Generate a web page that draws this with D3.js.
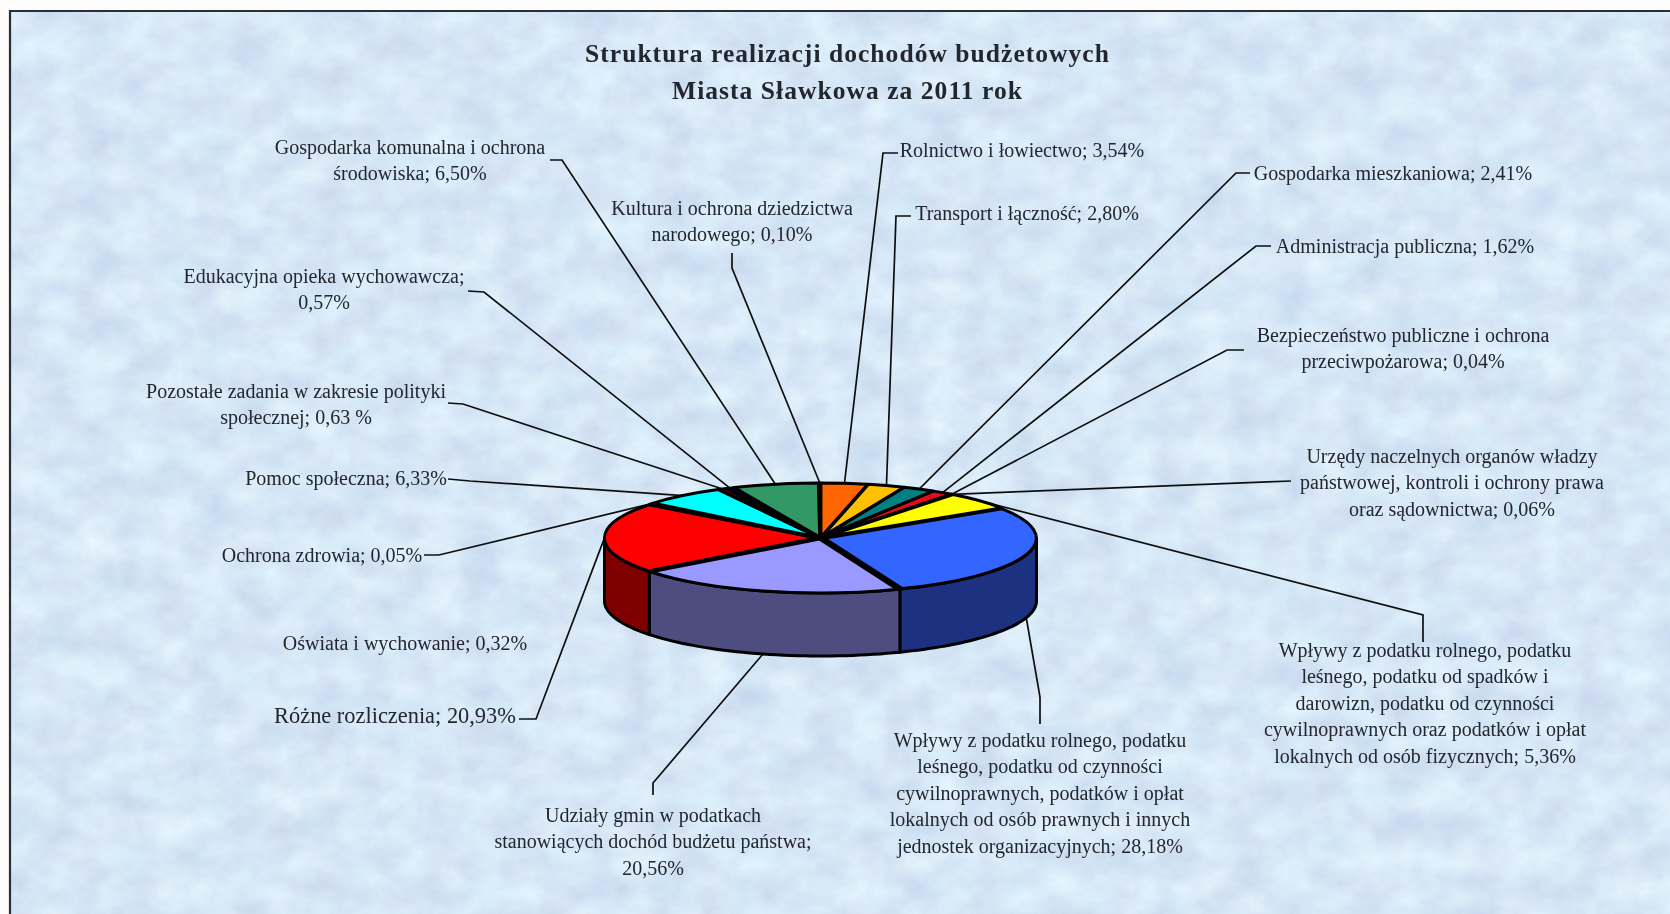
<!DOCTYPE html>
<html>
<head>
<meta charset="utf-8">
<script src="https://cdn.jsdelivr.net/npm/d3@7/dist/d3.min.js"></script>
<style>
  html, body { margin: 0; padding: 0; background: #fcfcfa; overflow: hidden; }
  svg { display: block; }
  text { font-family: "Liberation Serif", serif; fill: #23262e; }
</style>
</head>
<body>
<div id="chart"></div>
<script>
const titleLines = ["Struktura realizacji dochodów budżetowych", "Miasta Sławkowa za 2011 rok"];

// clockwise from 12 o'clock
const categories = [
  "Rolnictwo i łowiectwo",
  "Transport i łączność",
  "Gospodarka mieszkaniowa",
  "Administracja publiczna",
  "Bezpieczeństwo publiczne i ochrona przeciwpożarowa",
  "Urzędy naczelnych organów władzy państwowej, kontroli i ochrony prawa oraz sądownictwa",
  "Wpływy z podatku rolnego, podatku leśnego, podatku od spadków i darowizn, podatku od czynności cywilnoprawnych oraz podatków i opłat lokalnych od osób fizycznych",
  "Wpływy z podatku rolnego, podatku leśnego, podatku od czynności cywilnoprawnych, podatków i opłat lokalnych od osób prawnych i innych jednostek organizacyjnych",
  "Udziały gmin w podatkach stanowiących dochód budżetu państwa",
  "Różne rozliczenia",
  "Oświata i wychowanie",
  "Ochrona zdrowia",
  "Pomoc społeczna",
  "Pozostałe zadania w zakresie polityki społecznej",
  "Edukacyjna opieka wychowawcza",
  "Gospodarka komunalna i ochrona środowiska",
  "Kultura i ochrona dziedzictwa narodowego"
];
const values = [3.54, 2.80, 2.41, 1.62, 0.04, 0.06, 5.36, 28.18, 20.56, 20.93, 0.32, 0.05, 6.33, 0.63, 0.57, 6.50, 0.10];
const colors = ["#ff6600", "#ffc000", "#008080", "#e01020", "#000080", "#800080", "#ffff00", "#3366ff", "#9999ff", "#ff0000",
  "#00ff00", "#000000", "#00ffff", "#800000", "#000080", "#339966", "#000000"];

// text of each label, as it is broken in the picture
const labelLines = [
  ["Rolnictwo i łowiectwo; 3,54%"],
  ["Transport i łączność; 2,80%"],
  ["Gospodarka mieszkaniowa; 2,41%"],
  ["Administracja publiczna; 1,62%"],
  ["Bezpieczeństwo publiczne i ochrona", "przeciwpożarowa; 0,04%"],
  ["Urzędy naczelnych organów władzy", "państwowej, kontroli i ochrony prawa", "oraz sądownictwa; 0,06%"],
  ["Wpływy z podatku rolnego, podatku", "leśnego, podatku od spadków i", "darowizn, podatku od czynności", "cywilnoprawnych oraz podatków i opłat", "lokalnych od osób fizycznych; 5,36%"],
  ["Wpływy z podatku rolnego, podatku", "leśnego, podatku od czynności", "cywilnoprawnych, podatków i opłat", "lokalnych od osób prawnych i innych", "jednostek organizacyjnych; 28,18%"],
  ["Udziały gmin w podatkach", "stanowiących dochód budżetu państwa;", "20,56%"],
  ["Różne rozliczenia; 20,93%"],
  ["Oświata i wychowanie; 0,32%"],
  ["Ochrona zdrowia; 0,05%"],
  ["Pomoc społeczna; 6,33%"],
  ["Pozostałe zadania w zakresie polityki", "społecznej; 0,63 %"],
  ["Edukacyjna opieka wychowawcza;", "0,57%"],
  ["Gospodarka komunalna i ochrona", "środowiska; 6,50%"],
  ["Kultura i ochrona dziedzictwa", "narodowego; 0,10%"]
];

// where labels sit: centre x, first baseline, size
const labelPos = [
  [1022, 157, 20], [1027, 220, 20], [1393, 180, 20], [1405, 253, 20], [1403, 342, 20], [1452, 463, 20],
  [1425, 657, 20], [1040, 747, 20], [653, 822, 20], [395, 723, 22.4], [405, 650, 20], [322, 562, 20],
  [346, 485, 20], [296, 398, 20], [324, 283, 20], [410, 154, 20], [732, 215, 20]
];
// leader line points from the label side towards the pie, the pie end is computed
const leaderPts = [
  [[898, 153], [883, 153]],
  [[911, 216], [896, 216]],
  [[1250, 173], [1236, 173]],
  [[1271, 246], [1256, 246]],
  [[1244, 350], [1227, 350]],
  [[1291, 481]],
  [[1423, 642], [1423, 615]],
  [[1040, 724], [1040, 697]],
  [[653, 795], [653, 783]],
  [[519, 719], [536, 719]],
  null,
  [[424, 555], [439, 555]],
  [[448, 479], [470, 481]],
  [[448, 403], [463, 404]],
  [[468, 291], [484, 292]],
  [[550, 160], [562, 160]],
  [[732, 253], [732, 268]]
];

const width = 1670, height = 914;
const cx = 820.5, cy = 538, rx = 212, ry = 54, depth = 63, explode = 4;
const squash = ry / rx;
const wallRx = rx + explode, wallRy = ry + explode * squash;

const svg = d3.select("#chart").append("svg").attr("width", width).attr("height", height);
const defs = svg.append("defs");

// mottled paper background
const marble = defs.append("filter").attr("id", "marble")
  .attr("color-interpolation-filters", "sRGB")
  .attr("x", 0).attr("y", 0).attr("width", "100%").attr("height", "100%");
marble.append("feTurbulence").attr("type", "fractalNoise").attr("baseFrequency", "0.026 0.032")
  .attr("numOctaves", 5).attr("seed", 11);
marble.append("feColorMatrix").attr("type", "matrix")
  .attr("values", "0.13 0.05 0 0 0.75  0.14 0 0 0 0.835  0.08 0 0 0 0.925  0 0 0 0 1");

defs.append("filter").attr("id", "soft").attr("x", 0).attr("y", 0)
  .attr("filterUnits", "userSpaceOnUse").attr("width", width).attr("height", height)
  .append("feGaussianBlur").attr("stdDeviation", 0.45);

svg.append("rect").attr("x", 10).attr("y", 11).attr("width", width - 10).attr("height", height - 11)
  .attr("filter", "url(#marble)");
svg.append("path").attr("d", `M10,${height}V11H${width}`).attr("fill", "none").attr("stroke", "#2b2e36").attr("stroke-width", 2.2);

const chart = svg.append("g").attr("filter", "url(#soft)");

const pieData = d3.pie().sort(null).value(d => d)(values);
pieData.forEach(d => { d.mid = (d.startAngle + d.endAngle) / 2; });

const offset = a => [explode * Math.sin(a), -explode * squash * Math.cos(a)];
const rimPoint = (a, mid, dropY) => {
  const o = offset(mid);
  return [cx + o[0] + rx * Math.sin(a), cy + o[1] - ry * Math.cos(a) + dropY];
};
const wallPoint = (a, dropY) => [cx + wallRx * Math.sin(a), cy - wallRy * Math.cos(a) + dropY];

// leaders go under the pie, front slices hook to the lower rim
const leaderLine = d3.line();
chart.append("g").selectAll("path")
  .data(pieData.filter(d => leaderPts[d.index]))
  .join("path")
  .attr("d", d => {
    const front = d.mid > Math.PI / 2 && d.mid < Math.PI * 1.5;
    return leaderLine([...leaderPts[d.index], rimPoint(d.mid, d.mid, front ? depth : 0)]);
  })
  .attr("fill", "none").attr("stroke", "#111").attr("stroke-width", 1.7);

// outer walls, only the front half shows
const wallLine = d3.line();
const walls = pieData
  .map(d => ({
    index: d.index,
    a0: Math.max(d.startAngle, Math.PI / 2),
    a1: Math.min(d.endAngle, Math.PI * 1.5)
  }))
  .filter(w => w.a1 > w.a0);

chart.append("g").selectAll("path")
  .data(walls)
  .join("path")
  .attr("d", w => {
    const steps = d3.range(0, 41).map(i => w.a0 + (w.a1 - w.a0) * i / 40);
    const upper = steps.map(a => wallPoint(a, 0));
    const lower = steps.slice().reverse().map(a => wallPoint(a, depth));
    return wallLine(upper.concat(lower)) + "Z";
  })
  .attr("fill", w => {
    const c = d3.rgb(colors[w.index]);
    return d3.rgb(c.r * 0.5, c.g * 0.5, c.b * 0.5).formatHex();
  })
  .attr("stroke", "#000").attr("stroke-width", 3).attr("stroke-linejoin", "round");

// black disc under the top faces, the slices stand a little apart on it
chart.append("ellipse").attr("cx", cx).attr("cy", cy)
  .attr("rx", rx).attr("ry", ry).attr("fill", "#000");

// top faces, d3.arc squashed to the ellipse
const arc = d3.arc().innerRadius(0).outerRadius(rx);
chart.append("g").selectAll("path")
  .data(pieData)
  .join("path")
  .attr("d", arc)
  .attr("transform", d => {
    const o = offset(d.mid);
    return `translate(${cx + o[0]},${cy + o[1]}) scale(1,${squash})`;
  })
  .attr("fill", d => colors[d.index])
  .attr("stroke", "#000").attr("stroke-width", 3).attr("stroke-linejoin", "round")
  .attr("vector-effect", "non-scaling-stroke");

// title
chart.append("g").selectAll("text")
  .data(titleLines)
  .join("text")
  .attr("x", 847.5).attr("y", (d, i) => 62 + i * 36.5)
  .attr("text-anchor", "middle")
  .attr("font-size", 25.5).attr("font-weight", "bold").attr("letter-spacing", 1.05)
  .text(d => d);

// labels
const labels = chart.append("g").selectAll("text")
  .data(labelLines)
  .join("text")
  .attr("text-anchor", "middle")
  .attr("font-size", (d, i) => labelPos[i][2]);
labels.each(function (lines, i) {
  d3.select(this).selectAll("tspan")
    .data(lines)
    .join("tspan")
    .attr("x", labelPos[i][0])
    .attr("y", (d, j) => labelPos[i][1] + j * 26.4)
    .text(d => d);
});
</script>
</body>
</html>
